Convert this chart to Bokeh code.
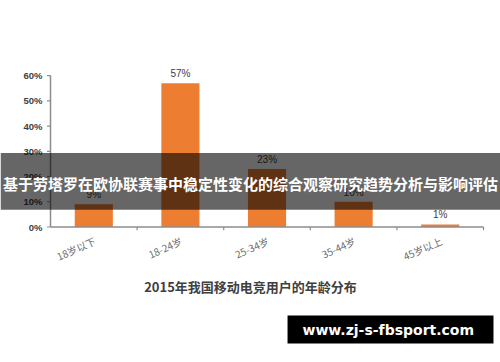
from bokeh.plotting import figure
from bokeh.models import Range1d, Label, BoxAnnotation, ColumnDataSource
from bokeh.core.properties import value
from bokeh.embed import file_html
from bokeh.resources import INLINE

categories = ["18岁以下", "18-24岁", "25-34岁", "35-44岁", "45岁以上"]
shares = [9, 57, 23, 10, 1]
y_ticks = [0, 10, 20, 30, 40, 50, 60]
chart_title = "2015年我国移动电竞用户的年龄分布"
banner_text = "基于劳塔罗在欧协联赛事中稳定性变化的综合观察研究趋势分析与影响评估"
watermark_text = "www.zj-s-fbsport.com"

n = len(categories)
xs = list(range(1, n + 1))
x0, x1 = 0.5, n + 0.5
ymax = y_ticks[-1]

# frame covers the whole canvas; axes are drawn with glyphs in data space
X_START, X_END = -0.0774, 5.696
Y_START, Y_END = -53.7, 89.77
p = figure(width=500, height=362, output_backend="svg", toolbar_location=None,
           x_range=Range1d(X_START, X_END), y_range=Range1d(Y_START, Y_END),
           x_axis_location=None, y_axis_location=None, min_border=0)
p.outline_line_color = None
p.grid.visible = False
p.background_fill_color = "white"
p.border_fill_color = "white"

src = ColumnDataSource(dict(x=xs, top=shares, label=[f"{v}%" for v in shares], cat=categories))
p.vbar(x="x", top="top", width=0.44, source=src, fill_color="#ED7D31", line_color=None)
p.text(x="x", y="top", text="label", source=src, text_align="center", text_baseline="bottom",
       y_offset=-4, text_font=value("Liberation Sans"), text_font_size="10px", text_color="#404040")

axis_color = "#8c8c8c"
# x axis line and boundary ticks
p.segment(x0=[x0], y0=[0], x1=[x1], y1=[0], line_color=axis_color, line_width=1.5)
bounds = [x + 0.5 for x in xs]
p.segment(x0=bounds, y0=[0] * n, x1=bounds, y1=[-1.3] * n, line_color=axis_color, line_width=1.2)
# y axis line and ticks
p.segment(x0=[x0], y0=[0], x1=[x0], y1=[ymax], line_color=axis_color, line_width=1.5)
p.segment(x0=[x0] * len(y_ticks), y0=y_ticks, x1=[x0 - 0.04] * len(y_ticks), y1=y_ticks,
          line_color=axis_color, line_width=1.2)
p.text(x=[x0] * len(y_ticks), y=y_ticks, text=[f"{t}%" for t in y_ticks], x_offset=-8,
       text_align="right", text_baseline="middle", text_font=value("Liberation Sans"),
       text_font_size="9.5px", text_font_style="bold", text_color="#404040")
# category labels (rotated)
p.text(x="x", y=0, text="cat", source=src, angle=0.42, x_offset=1, y_offset=13,
       text_align="right", text_baseline="middle", text_font=value("Noto Sans CJK SC"),
       text_font_size="10px", text_color="#6b6b6b")

mid = (X_START + X_END) / 2
p.add_layout(Label(x=mid, y=-23.6, text=chart_title, text_align="center", text_baseline="middle",
                   text_font="Noto Sans CJK SC", text_font_size="13px", text_font_style="bold",
                   text_color="#404040"))

# overlay banner
p.add_layout(BoxAnnotation(bottom=6.8, top=29.3, fill_color="black", fill_alpha=0.6, line_color=None))
p.add_layout(Label(x=mid, y=17.2, text=banner_text, text_align="center", text_baseline="middle",
                   text_font="Noto Sans CJK SC", text_font_size="15px", text_font_style="bold",
                   text_color="white"))

# watermark box
p.add_layout(BoxAnnotation(left=3.237, right=5.615, bottom=-46.2, top=-35.1, fill_color="black",
                           fill_alpha=1.0, line_color=None))
p.add_layout(Label(x=4.40, y=-40.7, text=watermark_text, text_align="center", text_baseline="middle",
                   text_font="DejaVu Sans", text_font_size="14px", text_font_style="bold",
                   text_color="white"))

open("out.html", "w").write(file_html(p, INLINE))
